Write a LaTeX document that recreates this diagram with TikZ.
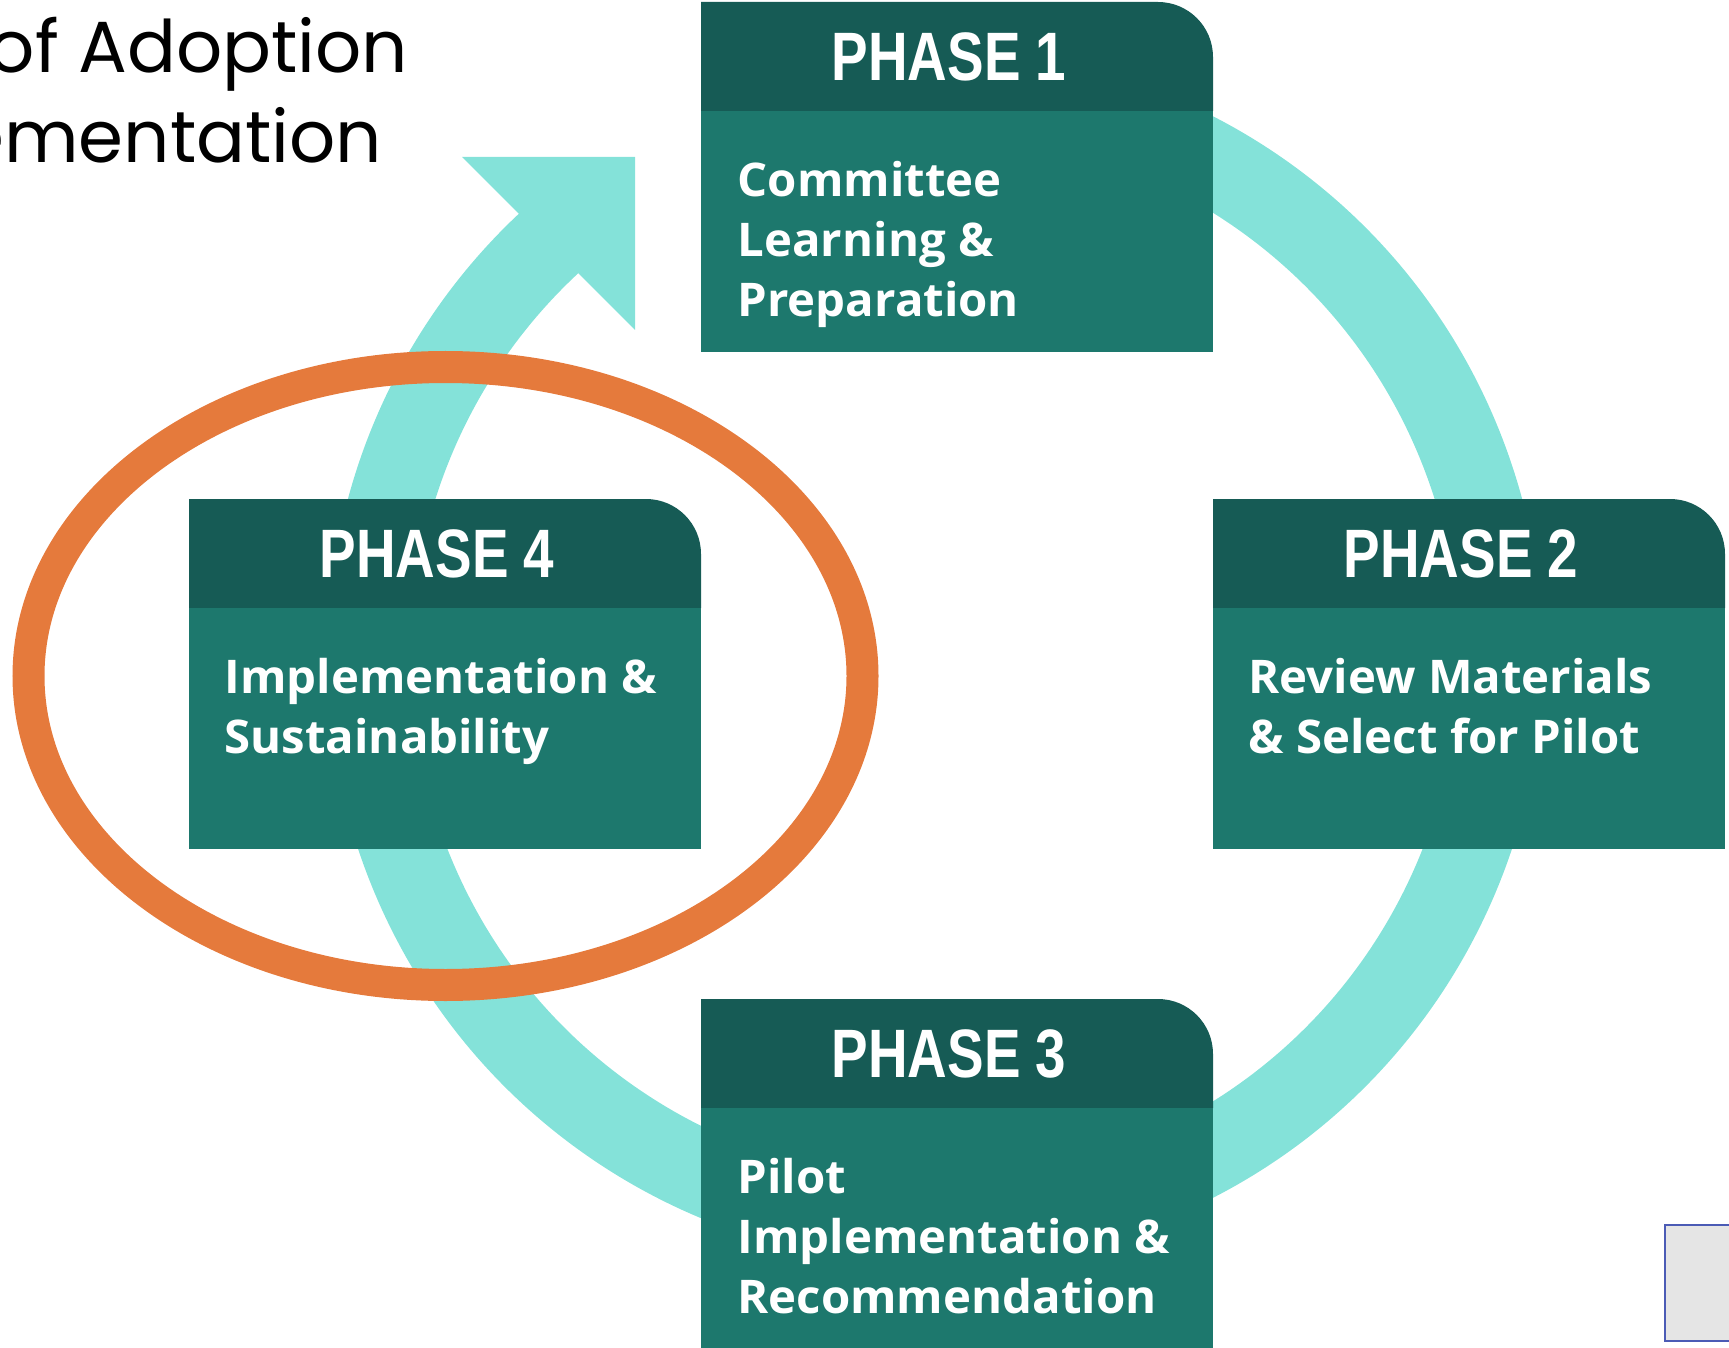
\documentclass[tikz,border=0pt]{standalone}
\usepackage{fontspec}
\usepackage{tikz}
\usetikzlibrary{positioning, backgrounds, calc}
\setmainfont{Liberation Sans}
\newfontfamily\headfont[FakeStretch=0.80]{Liberation Sans}
\newfontfamily\bodyfont[FakeStretch=1.02]{Open Sans}
\newfontfamily\titlefont{Poppins}
\definecolor{ringteal}{HTML}{84E2D9}
\definecolor{headteal}{HTML}{165B55}
\definecolor{bodyteal}{HTML}{1D786D}
\definecolor{looporange}{HTML}{E57A3C}
\definecolor{noteblue}{HTML}{4B5BB5}

\begin{document}
\begin{tikzpicture}[
    phasehead/.style={minimum width=5.12cm, minimum height=1.09cm, inner sep=0pt, outer sep=0pt, text=white, font=\headfont\bfseries\fontsize{19.5}{22}\selectfont},
    phasebody/.style={fill=bodyteal, minimum width=5.12cm, minimum height=2.41cm, inner sep=0pt, outer sep=0pt},
    phasetext/.style={text=white, align=left, inner sep=0pt, font=\bodyfont\bfseries\fontsize{13.2}{17.07}\selectfont},
    titletext/.style={inner sep=0pt, font=\titlefont\fontsize{20.6}{24}\selectfont}]
    \useasboundingbox (0,0) rectangle (17.29,13.47);

    % title (runs off the left edge)
    \node[titletext, anchor=base east] (title1) at (4.09,12.74) {of Adoption};
    \node[titletext, anchor=base east] (title2) at (3.83,11.84) {ementation};

    % the four phases
    \node[phasehead, anchor=north west] (p1head) at (7.01,13.45) {PHASE 1\hspace*{0.16cm}};
    \node[phasebody, below=0cm of p1head] (p1body) {};
    \node[phasehead, below right=1.47cm and 0cm of p1body] (p2head) {PHASE 2\hspace*{0.16cm}};
    \node[phasebody, below=0cm of p2head] (p2body) {};
    \node[phasehead, below left=1.47cm and 0cm of p1body] (p4head) {PHASE 4\hspace*{0.16cm}};
    \node[phasebody, below=0cm of p4head] (p4body) {};
    \node[phasehead, below right=1.50cm and 0cm of p4body] (p3head) {PHASE 3\hspace*{0.16cm}};
    \node[phasebody, below=0cm of p3head] (p3body) {};

    \node[phasetext, below right=0.50cm and 0.36cm of p1body.north west] (p1text) {Committee\\Learning \&\\Preparation};
    \node[phasetext, below right=0.50cm and 0.35cm of p2body.north west] (p2text) {Review Materials\\\& Select for Pilot};
    \node[phasetext, below right=0.50cm and 0.35cm of p4body.north west] (p4text) {Implementation \&\\Sustainability};
    \node[phasetext, below right=0.50cm and 0.36cm of p3body.north west] (p3text) {Pilot\\Implementation \&\\Recommendation};

    % small note box in the corner
    \node[draw=noteblue, line width=0.7pt, fill=black!10, minimum width=1.2cm, minimum height=1.16cm, anchor=north west] (note) at (16.64,1.23) {};

    \begin{scope}[on background layer]
        \coordinate (ctr) at (9.35,6.90);
        % cycle ring with arrow head into phase 1
        \draw[ringteal, line width=0.84cm] ([shift={(110:5.66)}]ctr) arc[start angle=110, end angle=-228, radius=5.66];
        \coordinate (tipl) at (4.62,11.90);
        \coordinate (tip) at (6.35,11.90);
        \coordinate (tipr) at (6.35,10.17);
        \fill[ringteal] (tipl) -- (tip) -- (tipr) -- cycle;
        % highlight round phase 4
        \draw[looporange, line width=0.32cm] (4.455,6.71) ellipse[x radius=4.17, y radius=3.09];
        % header bands, top right corner rounded
        \foreach \h in {p1head,p2head,p3head,p4head}
            \fill[headteal] (\h.south west) -- (\h.north west) -- ([xshift=-0.55cm]\h.north east)
                arc[start angle=90, end angle=0, radius=0.55cm] -- (\h.south east) -- cycle;
    \end{scope}
\end{tikzpicture}
\end{document}
